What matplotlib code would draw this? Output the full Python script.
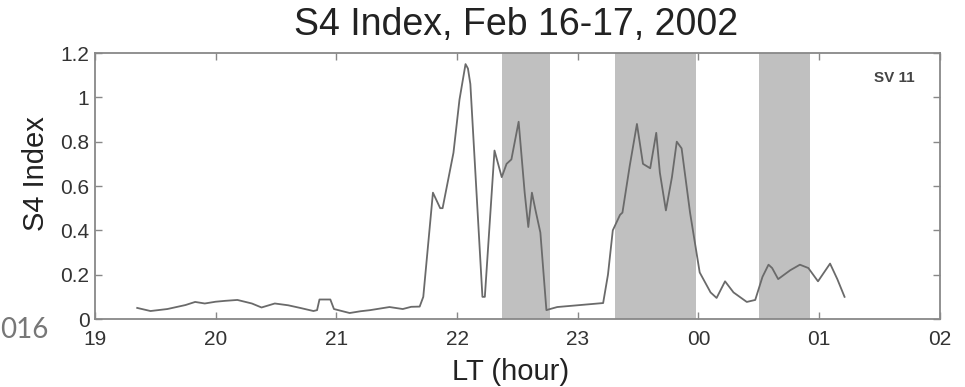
import matplotlib.pyplot as plt

plt.rcParams['font.family'] = ['Liberation Sans', 'DejaVu Sans']

# S4 trace (hours past 19 LT, 24+ means next day)
lt_hours = [19.35, 19.46, 19.60, 19.75, 19.83, 19.91, 20.00, 20.08, 20.18, 20.30,
            20.38, 20.49, 20.60, 20.70, 20.81, 20.84, 20.86, 20.95, 20.98, 21.11,
            21.20, 21.28, 21.44, 21.55, 21.62, 21.69, 21.72, 21.80, 21.86, 21.88,
            21.97, 22.02, 22.07, 22.09, 22.11, 22.21, 22.23, 22.31, 22.37, 22.41,
            22.45, 22.51, 22.56, 22.59, 22.62, 22.65, 22.69, 22.74, 22.77, 22.83,
            23.02, 23.21, 23.25, 23.29, 23.35, 23.37, 23.43, 23.49, 23.54, 23.60,
            23.65, 23.68, 23.73, 23.78, 23.82, 23.86, 23.93, 24.01, 24.10, 24.15,
            24.22, 24.29, 24.40, 24.47, 24.53, 24.58, 24.61, 24.66, 24.76, 24.84,
            24.91, 24.99, 25.09, 25.15, 25.21]
s4_values = [0.050, 0.036, 0.045, 0.063, 0.077, 0.070, 0.078, 0.082, 0.086, 0.070,
             0.052, 0.070, 0.062, 0.050, 0.036, 0.040, 0.088, 0.088, 0.045, 0.027,
             0.035, 0.040, 0.054, 0.045, 0.055, 0.056, 0.100, 0.570, 0.500, 0.500,
             0.750, 0.990, 1.150, 1.130, 1.060, 0.100, 0.100, 0.760, 0.640, 0.700,
             0.720, 0.890, 0.570, 0.415, 0.570, 0.490, 0.390, 0.040, 0.045, 0.054,
             0.063, 0.072, 0.200, 0.400, 0.470, 0.480, 0.690, 0.880, 0.700, 0.680,
             0.840, 0.660, 0.490, 0.640, 0.800, 0.770, 0.480, 0.210, 0.120, 0.095,
             0.170, 0.120, 0.077, 0.086, 0.190, 0.245, 0.230, 0.180, 0.220, 0.245,
             0.230, 0.170, 0.250, 0.180, 0.100]

# shaded intervals (start, end) in hours
band_starts = [22.37, 23.31, 24.50]
band_ends = [22.77, 23.98, 24.92]

xtick_pos = [19, 20, 21, 22, 23, 24, 25, 26]
xtick_labels = ['19', '20', '21', '22', '23', '00', '01', '02']
ytick_pos = [0, 0.2, 0.4, 0.6, 0.8, 1.0, 1.2]
ytick_labels = ['0', '0.2', '0.4', '0.6', '0.8', '1', '1.2']

fig = plt.figure(figsize=(9.65, 3.87), dpi=100)
ax = fig.add_axes([0.0984, 0.1757, 0.8756, 0.6873])

for a, b in zip(band_starts, band_ends):
    ax.axvspan(a, b, color='#c0c0c0', lw=0, zorder=1)

ax.plot(lt_hours, s4_values, color='#6a6a6a', lw=1.3, zorder=3,
        solid_joinstyle='round')

ax.set_xlim(19, 26)
ax.set_ylim(0, 1.2)
ax.set_xticks(xtick_pos)
ax.set_xticklabels(xtick_labels)
ax.set_yticks(ytick_pos)
ax.set_yticklabels(ytick_labels)
ax.tick_params(direction='in', length=5, width=1, color='#888888',
               labelcolor='#333333', labelsize=15, top=True, right=True)
ax.tick_params(axis='x', pad=8)
ax.tick_params(axis='y', pad=4)
for sp in ax.spines.values():
    sp.set_color('#888888')
    sp.set_linewidth(1.3)

ax.set_ylabel('S4 Index', fontsize=21, color='#222222')
ax.yaxis.set_label_coords(-0.053, 0.545)
ax.set_xlabel('LT (hour)', fontsize=21, color='#222222')
ax.xaxis.set_label_coords(0.492, -0.145)

fig.text(516 / 965, 1 - 25 / 387, 'S4 Index, Feb 16-17, 2002', fontsize=27,
         color='#222222', ha='center', va='center')
ax.text(0.946, 0.905, 'SV 11', transform=ax.transAxes, fontsize=11,
        fontweight='bold', color='#444444', ha='center', va='center')
fig.text(0.0, 1 - 330 / 387, '016', fontsize=20, color='#777777',
         ha='left', va='center', family=['Lato', 'DejaVu Sans'])

fig.savefig('out.png', dpi=100)
